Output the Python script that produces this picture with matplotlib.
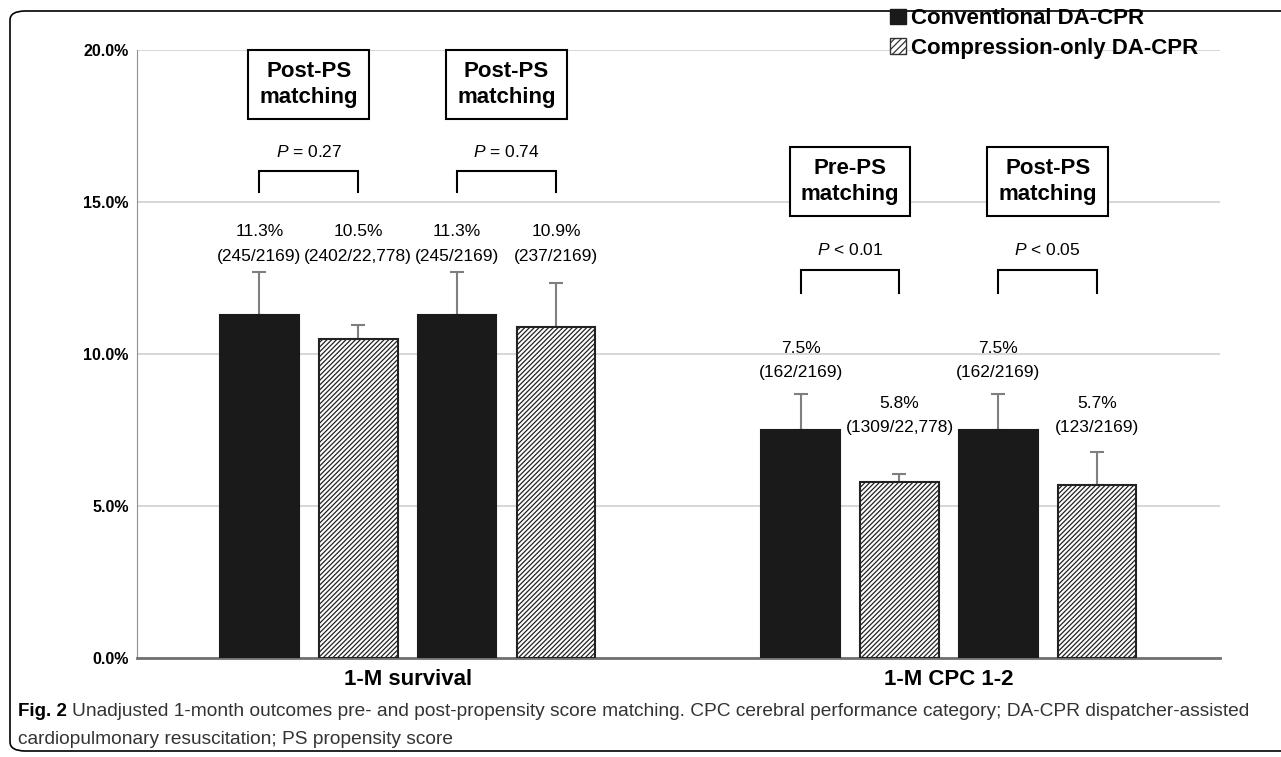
import numpy as np
import matplotlib.pyplot as plt
from matplotlib.patches import Patch, FancyBboxPatch

plt.rcParams['font.family'] = ['Liberation Sans', 'DejaVu Sans']
plt.rcParams['mathtext.fontset'] = 'custom'
plt.rcParams['mathtext.it'] = 'Liberation Sans:italic'
plt.rcParams['hatch.linewidth'] = 0.9
plt.rcParams['hatch.color'] = '#5a5a5a'

# data
categories = ['1-M survival', '1-M CPC 1-2']
bar_values = [[11.3, 10.5, 11.3, 10.9], [7.5, 5.8, 7.5, 5.7]]
bar_errors = [[1.4, 0.45, 1.4, 1.43], [1.18, 0.25, 1.18, 1.08]]
pct_labels = [['11.3%', '10.5%', '11.3%', '10.9%'], ['7.5%', '5.8%', '7.5%', '5.7%']]
count_labels = [['(245/2169)', '(2402/22,778)', '(245/2169)', '(237/2169)'],
                ['(162/2169)', '(1309/22,778)', '(162/2169)', '(123/2169)']]
box_labels = [['Post-PS\nmatching', 'Post-PS\nmatching'], ['Pre-PS\nmatching', 'Post-PS\nmatching']]
p_labels = [['$P$ = 0.27', '$P$ = 0.74'], ['$P$ < 0.01', '$P$ < 0.05']]
series = ['Conventional DA-CPR', 'Compression-only DA-CPR']

# layout (y positions of annotations, in %)
label_y = [[13.22, 13.22, 13.22, 13.22], [9.38, 7.57, 9.38, 7.57]]
bracket_y = [(15.33, 16.02), (12.0, 12.76)]
p_y = [16.64, 13.42]
box_y = [18.87, 15.69]

fig = plt.figure(figsize=(12.81, 7.57), dpi=100)
ax = fig.add_axes([0.107, 0.1308, 0.845, 0.803])

offsets = np.array([-1.5, -0.5, 0.5, 1.5]) * 0.1826
width = 0.145
for g in range(2):
    xs = g + offsets
    for i in range(4):
        black = i % 2 == 0
        ax.bar(xs[i], bar_values[g][i], width,
               color='#1a1a1a' if black else 'white',
               edgecolor='#1a1a1a' if black else '#222222',
               hatch=None if black else '/' * 7, linewidth=1.5, zorder=3)
        ax.errorbar(xs[i], bar_values[g][i], yerr=[[0], [bar_errors[g][i]]],
                    fmt='none', ecolor='#7f7f7f', elinewidth=1.5, capsize=5,
                    capthick=1.5, zorder=2)
        ax.text(xs[i], label_y[g][i], count_labels[g][i], ha='center', va='center',
                fontsize=12.5)
        ax.text(xs[i], label_y[g][i] + 0.8, pct_labels[g][i], ha='center', va='center',
                fontsize=12.5)
    for k in range(2):
        x0, x1 = xs[2 * k], xs[2 * k + 1]
        lo, hi = bracket_y[g]
        ax.plot([x0, x0, x1, x1], [lo, hi, hi, lo], color='black', lw=1.5,
                solid_joinstyle='miter')
        ax.text((x0 + x1) / 2, p_y[g], p_labels[g][k], ha='center', va='center',
                fontsize=12.5)
        ax.text((x0 + x1) / 2, box_y[g], box_labels[g][k], ha='center', va='center',
                fontsize=16, fontweight='bold', linespacing=1.3,
                bbox=dict(boxstyle='square,pad=0.5', facecolor='white',
                          edgecolor='black', linewidth=1.5))

ax.set_xlim(-0.5, 1.5)
ax.set_ylim(0, 20)
ax.set_yticks([0, 5, 10, 15, 20])
ax.set_yticklabels(['0.0%', '5.0%', '10.0%', '15.0%', '20.0%'],
                   fontweight='bold', fontsize=11.5)
ax.yaxis.grid(True, color='#d0d0d0', lw=1.2, zorder=0)
ax.set_xticks([0, 1])
ax.set_xticklabels(categories, fontweight='bold', fontsize=16)
ax.tick_params(axis='both', length=0, pad=6)
ax.tick_params(axis='x', pad=8)
for s in ['top', 'right']:
    ax.spines[s].set_visible(False)
ax.spines['left'].set_color('#909090')
ax.spines['bottom'].set_color('#707070')
ax.spines['bottom'].set_linewidth(2)

handles = [Patch(facecolor='#1a1a1a', edgecolor='#1a1a1a'),
           Patch(facecolor='white', edgecolor='#333333', hatch='/' * 5)]
fig.legend(handles, series, loc='upper left', bbox_to_anchor=(0.688, 1.001),
           frameon=False, prop=dict(weight='bold', size=16),
           handlelength=0.7, handleheight=0.7, handletextpad=0.25, labelspacing=0.4,
           borderaxespad=0)

frame = FancyBboxPatch((10 / 1281, 6 / 757), 1.05, 1 - 17 / 757,
                       boxstyle='round,pad=0,rounding_size=0.012',
                       transform=fig.transFigure, facecolor='none',
                       edgecolor='black', linewidth=1.2, clip_on=False)
fig.patches.append(frame)

fig.text(18 / 1281, 1 - 712 / 757, 'Fig. 2', fontsize=13.5, fontweight='bold', va='center')
fig.text(72 / 1281, 1 - 712 / 757,
         'Unadjusted 1-month outcomes pre- and post-propensity score matching. CPC cerebral performance category; DA-CPR dispatcher-assisted',
         fontsize=13.8, va='center', color='#333333')
fig.text(18 / 1281, 1 - 740 / 757,
         'cardiopulmonary resuscitation; PS propensity score',
         fontsize=13.8, va='center', color='#333333')

fig.savefig('out.png', dpi=100)
